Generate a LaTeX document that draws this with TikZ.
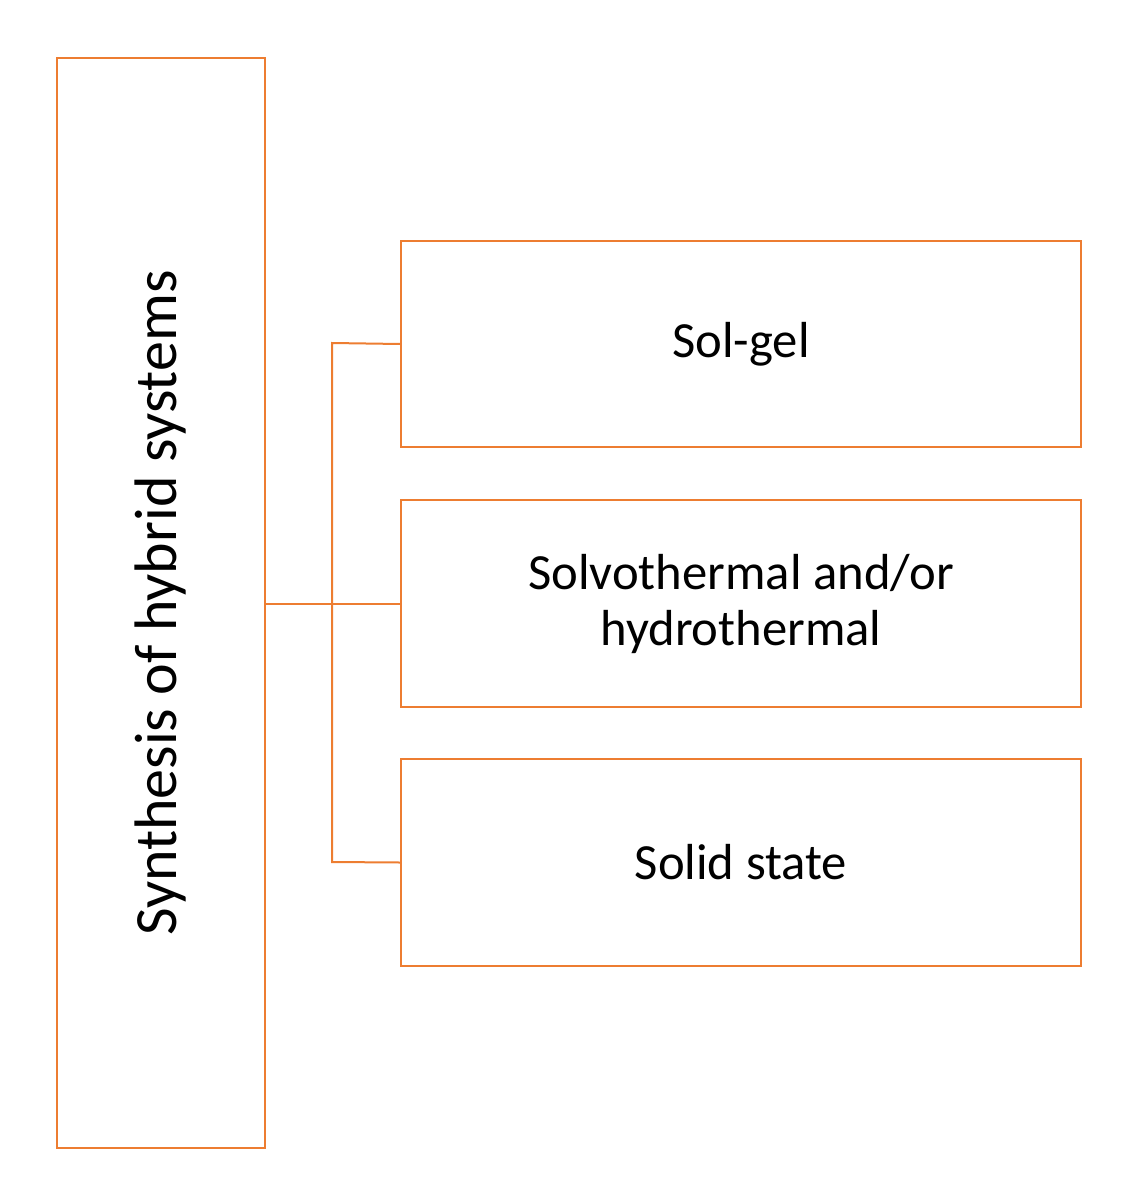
\documentclass[tikz,border=0pt]{standalone}
\usepackage{fontspec}
\setmainfont{Carlito}
\definecolor{org}{RGB}{237,125,49}
\begin{document}
\begin{tikzpicture}[x=0.75pt,y=-0.75pt,
 box/.style={draw=org,line width=1.5pt,inner sep=0pt,align=center},
 con/.style={draw=org,line width=1.5pt}]
\useasboundingbox (0,0) rectangle (1133,1202);
\node[box,minimum width=208*0.75pt,minimum height=1090*0.75pt] (main) at (161,603) {};
\node[rotate=90,font=\fontsize{45}{52}\selectfont] at (161,603) {Synthesis of hybrid systems};
\node[box,minimum width=680*0.75pt,minimum height=206*0.75pt,font=\fontsize{38}{42}\selectfont] (a) at (741,344) {Sol-gel};
\node[box,minimum width=680*0.75pt,minimum height=207*0.75pt,font=\fontsize{38}{42}\selectfont] (b) at (741,603.5) {Solvothermal and/or\\hydrothermal};
\node[box,minimum width=680*0.75pt,minimum height=207*0.75pt,font=\fontsize{38}{42}\selectfont] (c) at (741,862.5) {Solid state};
\coordinate (j) at (332,604);
\coordinate (t) at (332,343);
\coordinate (u) at (332,862);
\draw[con] (main.east |- j) -- (b.west |- j);
\draw[con] (a.west) -- (t) -- (u) -- (c.west);
\end{tikzpicture}
\end{document}
